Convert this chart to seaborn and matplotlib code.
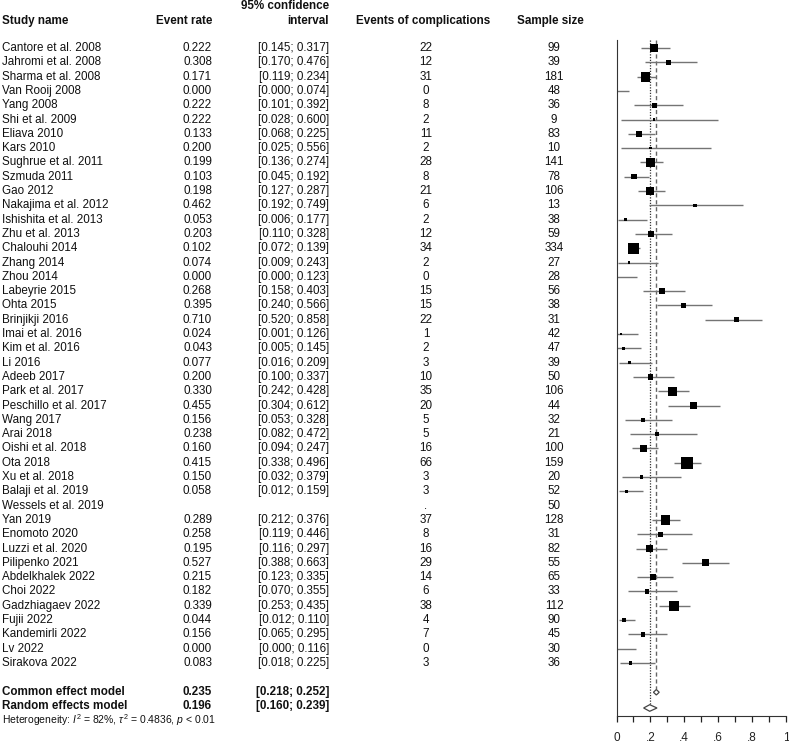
import numpy as np
import pandas as pd
import matplotlib
matplotlib.use("Agg")
import matplotlib.pyplot as plt
import matplotlib.transforms as mtransforms
from matplotlib import font_manager
import seaborn as sns

# DATA

studies = ["Cantore et al. 2008", "Jahromi et al. 2008", "Sharma et al. 2008", "Van Rooij 2008",
           "Yang 2008", "Shi et al. 2009", "Eliava 2010", "Kars 2010", "Sughrue et al. 2011",
           "Szmuda 2011", "Gao 2012", "Nakajima et al. 2012", "Ishishita et al. 2013",
           "Zhu et al. 2013", "Chalouhi 2014", "Zhang 2014", "Zhou 2014", "Labeyrie 2015",
           "Ohta 2015", "Brinjikji 2016", "Imai et al. 2016", "Kim et al. 2016", "Li 2016",
           "Adeeb 2017", "Park et al. 2017", "Peschillo et al. 2017", "Wang 2017", "Arai 2018",
           "Oishi et al. 2018", "Ota 2018", "Xu et al. 2018", "Balaji et al. 2019",
           "Wessels et al. 2019", "Yan 2019", "Enomoto 2020", "Luzzi et al. 2020",
           "Pilipenko 2021", "Abdelkhalek 2022", "Choi 2022", "Gadzhiagaev 2022", "Fujii 2022",
           "Kandemirli 2022", "Lv 2022", "Sirakova 2022"]
rates = [0.222, 0.308, 0.171, 0.000, 0.222, 0.222, 0.133, 0.200, 0.199, 0.103, 0.198, 0.462,
         0.053, 0.203, 0.102, 0.074, 0.000, 0.268, 0.395, 0.710, 0.024, 0.043, 0.077, 0.200,
         0.330, 0.455, 0.156, 0.238, 0.160, 0.415, 0.150, 0.058, None, 0.289, 0.258, 0.195,
         0.527, 0.215, 0.182, 0.339, 0.044, 0.156, 0.000, 0.083]
ci_low = [0.145, 0.170, 0.119, 0.000, 0.101, 0.028, 0.068, 0.025, 0.136, 0.045, 0.127, 0.192,
          0.006, 0.110, 0.072, 0.009, 0.000, 0.158, 0.240, 0.520, 0.001, 0.005, 0.016, 0.100,
          0.242, 0.304, 0.053, 0.082, 0.094, 0.338, 0.032, 0.012, None, 0.212, 0.119, 0.116,
          0.388, 0.123, 0.070, 0.253, 0.012, 0.065, 0.000, 0.018]
ci_high = [0.317, 0.476, 0.234, 0.074, 0.392, 0.600, 0.225, 0.556, 0.274, 0.192, 0.287, 0.749,
           0.177, 0.328, 0.139, 0.243, 0.123, 0.403, 0.566, 0.858, 0.126, 0.145, 0.209, 0.337,
           0.428, 0.612, 0.328, 0.472, 0.247, 0.496, 0.379, 0.159, None, 0.376, 0.446, 0.297,
           0.663, 0.335, 0.355, 0.435, 0.110, 0.295, 0.116, 0.225]
events = [22, 12, 31, 0, 8, 2, 11, 2, 28, 8, 21, 6, 2, 12, 34, 2, 0, 15, 15, 22, 1, 2, 3, 10,
          35, 20, 5, 5, 16, 66, 3, 3, None, 37, 8, 16, 29, 14, 6, 38, 4, 7, 0, 3]
samples = [99, 39, 181, 48, 36, 9, 83, 10, 141, 78, 106, 13, 38, 59, 334, 27, 28, 56, 38, 31,
           42, 47, 39, 50, 106, 44, 32, 21, 100, 159, 20, 52, 50, 128, 31, 82, 55, 65, 33, 112,
           90, 45, 30, 36]

models = ["Common effect model", "Random effects model"]
model_est = [0.235, 0.196]
model_low = [0.218, 0.160]
model_high = [0.252, 0.239]
heterogeneity = r"Heterogeneity: $I^2$ = 82%, $\tau^2$ = 0.4836, $p$ < 0.01"

tick_vals = [0, 0.2, 0.4, 0.6, 0.8, 1.0]
tick_labels = ["0", ".2", ".4", ".6", ".8", "1"]

# STYLE

sns.set_style("ticks")
plt.rcParams['font.family'] = ['Liberation Sans', 'DejaVu Sans']
plt.rcParams['mathtext.fontset'] = 'custom'
plt.rcParams['mathtext.rm'] = 'Liberation Sans'
plt.rcParams['mathtext.it'] = 'Liberation Sans:italic'

installed = {f.name for f in font_manager.fontManager.ttflist}
if 'Liberation Sans Narrow' in installed:
    head_family, head_size, small_size = 'Liberation Sans Narrow', 10, 8.8
else:
    head_family, head_size, small_size = 'Liberation Sans', 8.4, 7.5
body_size = 8.4
txt_col = '#111111'

df = pd.DataFrame({'study': studies, 'rate': rates, 'low': ci_low, 'high': ci_high,
                   'events': events, 'n': samples})
df['row'] = np.arange(len(df))
plot_df = df.dropna(subset=['rate']).copy()
w = plot_df['events'] * (plot_df['n'] - plot_df['events']) / plot_df['n']
side_px = np.maximum(12 * np.sqrt(w / w.max()), 1.6)
plot_df['size'] = (side_px * 0.72) ** 2

# FIGURE

fig = plt.figure(figsize=(7.89, 7.43), dpi=100)
ax = fig.add_axes([616.5 / 789, (743 - 716) / 743, 169.5 / 789, (716 - 40) / 743])

ax.hlines(plot_df['row'], plot_df['low'], plot_df['high'], color='#747474', lw=1.0, zorder=2)
sns.scatterplot(data=plot_df, x='rate', y='row', marker='s', s=plot_df['size'].values,
                color='black', linewidth=0, legend=False, ax=ax, zorder=3)

# reference lines (common dashed, random dotted)
ax.vlines(model_est[0], -0.56, 44.85, color='#666666', lw=1.0, linestyles=(0, (3, 2)), zorder=1)
ax.vlines(model_est[1], -0.56, 45.9, color='#333333', lw=0.9, linestyles=(0, (1, 1.2)), zorder=1)

# diamonds
model_rows = [45.05, 46.15]
heights = [0.19, 0.23]
for est, lo, hi, yy, h in zip(model_est, model_low, model_high, model_rows, heights):
    ax.fill([lo, est, hi, est], [yy, yy - h, yy, yy + h], facecolor='white',
            edgecolor='#444444', lw=0.9, zorder=4)

ax.set_xlim(0, 1)
ax.set_ylim(46.71, -0.56)
ax.set_xticks(np.arange(0, 1.01, 0.1))
ax.set_xticklabels([tick_labels[tick_vals.index(round(t, 1))] if round(t, 1) in tick_vals else ''
                    for t in np.arange(0, 1.01, 0.1)], family=head_family, fontsize=8.5)
ax.set_yticks([])
ax.set_xlabel('')
ax.set_ylabel('')
ax.tick_params(axis='x', length=4.5, width=0.9, pad=7, colors='#222222')
sns.despine(ax=ax)
ax.spines['left'].set_color('#333333')
ax.spines['bottom'].set_color('#333333')
ax.patch.set_alpha(0)

# TABLE TEXT

trans = mtransforms.blended_transform_factory(fig.transFigure, ax.transData)
col_name, col_rate, col_ci, col_ev, col_n = 2 / 789, 212 / 789, 329 / 789, 426 / 789, 554 / 789

hdr = dict(transform=trans, family=head_family, fontsize=head_size, fontweight='bold',
           va='center', color=txt_col, clip_on=False)
ax.text(col_name, -1.92, "Study name", ha='left', **hdr)
ax.text(col_rate, -1.92, "Event rate", ha='right', **hdr)
ax.text(col_ci, -2.94, "95% confidence", ha='right', **hdr)
ax.text(col_ci, -1.92, "interval", ha='right', **hdr)
ax.text(423 / 789, -1.92, "Events of complications", ha='center', **hdr)
ax.text(550 / 789, -1.92, "Sample size", ha='center', **hdr)

body = dict(transform=trans, fontsize=body_size, va='center', color=txt_col, clip_on=False)
for _, r in df.iterrows():
    y = r['row']
    ax.text(col_name, y, r['study'], ha='left', **body)
    if pd.notna(r['rate']):
        ax.text(col_rate, y, f"{r['rate']:.3f}", ha='right', **body)
        ax.text(col_ci, y, f"[{r['low']:.3f}; {r['high']:.3f}]", ha='right', **body)
        ax.text(col_ev, y, f"{int(r['events'])}", ha='center', **body)
    else:
        ax.text(col_ev, y, ".", ha='center', **body)
    ax.text(col_n, y, f"{int(r['n'])}", ha='center', **body)

for name, est, lo, hi, yy in zip(models, model_est, model_low, model_high, [45.0, 46.0]):
    ax.text(col_name, yy, name, ha='left', **hdr)
    ax.text(col_rate, yy, f"{est:.3f}", ha='right', **hdr)
    ax.text(col_ci, yy, f"[{lo:.3f}; {hi:.3f}]", ha='right', **hdr)

ax.text(col_name, 47.0, heterogeneity, ha='left', transform=trans, family=head_family,
        fontsize=small_size, va='center', color=txt_col, clip_on=False)

plt.savefig("out.png", dpi=100)
plt.close()
